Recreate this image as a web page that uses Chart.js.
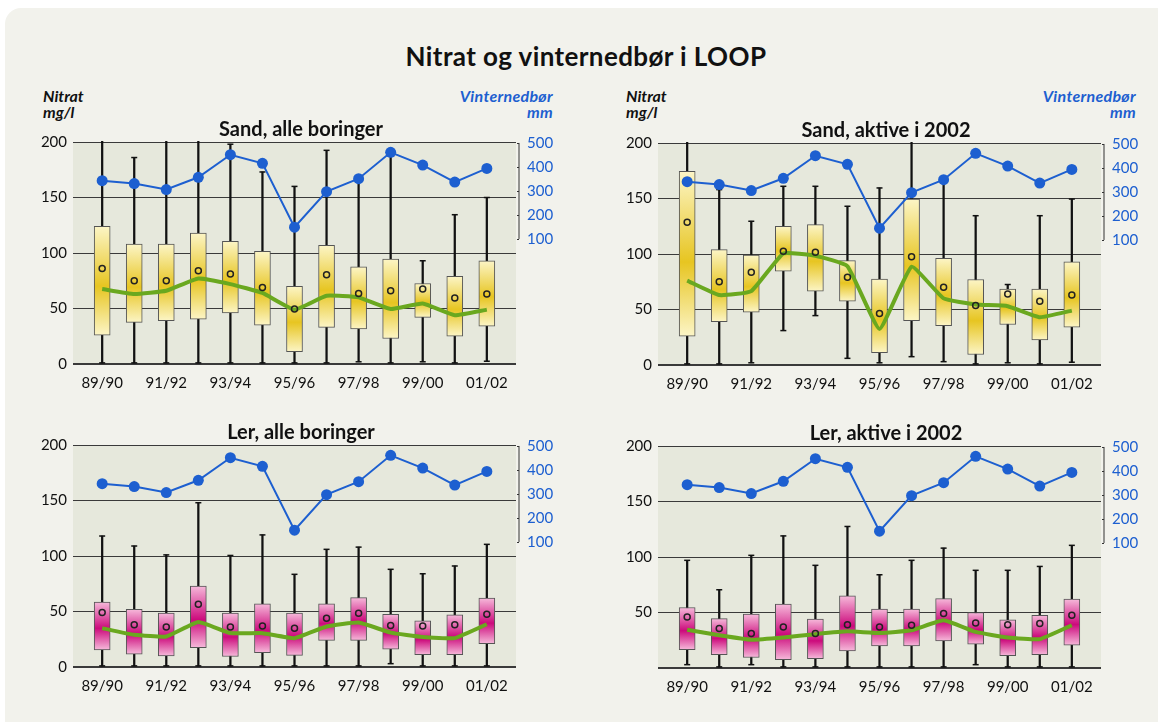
<!DOCTYPE html>
<html>
<head>
<meta charset="utf-8">
<script src="https://cdn.jsdelivr.net/npm/chart.js@4/dist/chart.umd.min.js"></script>
<style>
	body{margin:0;background:#fff;width:1158px;height:722px;overflow:hidden;font-family:Lato,"Open Sans",sans-serif;position:relative;}
	#bg{position:absolute;left:5px;top:8px;width:1180px;height:740px;background:#f2f2ec;border-radius:16px;}
	.maintitle{position:absolute;left:286px;width:600px;top:40px;text-align:center;font-weight:bold;font-size:26px;letter-spacing:0.4px;color:#111;}
	.head{position:absolute;top:88px;font-weight:bold;font-style:italic;font-size:16px;line-height:16px;}
	.nitrat{color:#111;}
	.regn{color:#1d5fd0;text-align:right;letter-spacing:0.3px;}
	canvas{position:absolute;}
</style>
</head>
<body>
<div id="bg"></div>
<div class="maintitle">Nitrat og vinternedbør i LOOP</div>
<div class="head nitrat" style="left:43px;">Nitrat<br>mg/l</div>
<div class="head regn" style="right:605px;">Vinternedbør<br>mm</div>
<div class="head nitrat" style="left:626px;">Nitrat<br>mg/l</div>
<div class="head regn" style="right:22px;">Vinternedbør<br>mm</div>

<canvas id="sandAlle" width="540" height="282" style="left:31px;top:116px;"></canvas>
<canvas id="sandAktiv" width="540" height="282" style="left:616px;top:117px;"></canvas>
<canvas id="lerAlle" width="540" height="282" style="left:31px;top:419px;"></canvas>
<canvas id="lerAktiv" width="540" height="282" style="left:616px;top:420px;"></canvas>

<script>
'use strict';

// vintersesonger
const seasons = ['89/90','90/91','91/92','92/93','93/94','94/95','95/96','96/97','97/98','98/99','99/00','00/01','01/02'];
// vinternedbør mm (samme i alle fire)
const precip = [343, 331, 306, 357, 451, 415, 149, 297, 351, 461, 408, 337, 394];
const nitratTicks = [0, 50, 100, 150, 200];
const precipTicks = [100, 200, 300, 400, 500];

// Sand, alle boringer  (215 = over 200, går ut av plottet)
const sandAlleMin    = [1, 1, 1, 1, 1, 1, 1, 1, 2, 1, 2, 1, 2.5];
const sandAlleQ1     = [26, 37.5, 39, 40.5, 46, 35, 11, 33, 31.5, 23, 42, 25, 34];
const sandAlleMedian = [67.5, 63, 66, 77, 72, 64, 49, 61.5, 60, 49.5, 54.5, 44, 49];
const sandAlleMean   = [86, 75, 75, 84, 81, 69, 49.5, 80.5, 63.5, 66, 67.5, 59.5, 63];
const sandAlleQ3     = [124, 108, 108, 118, 110.5, 101.5, 70, 107, 87.5, 94.5, 72.5, 79, 93];
const sandAlleMax    = [215, 186, 215, 215, 198, 173, 160, 192.5, 166, 191, 93, 134.5, 150];

// Sand, aktive i 2002
const sandAktivMin    = [1, 1, 2, 31, 44.5, 6, 2, 7.5, 3, 1, 2, 1, 2.5];
const sandAktivQ1     = [26, 39, 47.5, 84.5, 66.5, 57.5, 11, 40, 35.5, 9.5, 36.5, 22.5, 34];
const sandAktivMedian = [76, 63, 66.5, 100.5, 98.5, 89, 32.5, 88.5, 60, 54.5, 53, 43, 49];
const sandAktivMean   = [128.5, 75, 83.5, 102.5, 101.5, 79, 46.5, 97.5, 70, 53.5, 64, 57.5, 63];
const sandAktivQ3     = [174.5, 104, 99, 125, 126.5, 94, 77.5, 149.5, 96, 77, 68.5, 68.5, 93];
const sandAktivMax    = [215, 158, 129.5, 161, 161, 143, 159.5, 215, 166.5, 134.5, 72.5, 134.5, 149.5];

// Ler, alle boringer
const lerAlleMin    = [1, 1, 1, 1, 1, 1, 1, 1, 1, 3, 1, 1, 1];
const lerAlleQ1     = [15.5, 11.5, 10, 17.5, 9.5, 13, 10.5, 24, 24, 16, 11, 11, 21];
const lerAlleMedian = [35, 29, 27.5, 40.5, 30.5, 30.5, 26, 36.5, 40, 31, 27, 26, 38.5];
const lerAlleMean   = [49, 38, 36, 56.5, 36, 37, 35, 44, 48.5, 37.5, 37, 38, 47.5];
const lerAlleQ3     = [58.5, 52, 48.5, 73, 48.5, 57, 48.5, 57, 62.5, 47.5, 41.5, 47, 62];
const lerAlleMax    = [118, 109, 101, 148, 100.5, 119, 83.5, 106, 108, 88, 84, 91, 110.5];

// Ler, aktive i 2002
const lerAktivMin    = [3, 1, 3, 1, 1, 1, 1, 1, 1, 3, 1, 1, 1];
const lerAktivQ1     = [16.5, 12, 9.5, 7.5, 8.5, 15.5, 20, 20, 24.5, 21.5, 11, 12, 20.5];
const lerAktivMedian = [34.5, 29.5, 25.5, 27.5, 30.5, 33, 31.5, 34, 43, 32.5, 27.5, 26, 38.5];
const lerAktivMean   = [46, 35.5, 31, 37, 31, 39, 37, 38.5, 49, 40.5, 39, 40, 47.5];
const lerAktivQ3     = [54.5, 44.5, 48.5, 57.5, 44, 65, 53, 53, 62.5, 50, 43.5, 47.5, 62];
const lerAktivMax    = [97, 70.5, 101.5, 119, 92.5, 127.5, 84, 97, 108, 88, 88, 91.5, 110.5];

const yellow = {light: '#fcf5c6', mid: '#e7c521'};
const pink = {light: '#f6b9da', mid: '#cc0a7c'};
const blue = '#1d5fd0';
const green = '#6aa81f';
const font = 'Lato, "Open Sans", sans-serif';

// bakgrunn i plottet og den korte høyre aksen
const panelPlugin = {
	id: 'panel',
	beforeDraw(chart){
		let a = chart.chartArea;
		let c = chart.ctx;
		c.save();
		c.fillStyle = '#e6e8dc';
		c.fillRect(a.left, a.top, a.right - a.left, a.bottom - a.top);
		c.restore();
	},
	afterDraw(chart){
		let c = chart.ctx;
		let y2 = chart.scales.y2;
		let x = chart.chartArea.right + 3;
		c.save();
		c.strokeStyle = '#333';
		c.lineWidth = 1;
		c.beginPath();
		c.moveTo(x, y2.getPixelForValue(precipTicks[0]));
		c.lineTo(x, y2.getPixelForValue(precipTicks[precipTicks.length - 1]));
		for(let i = 0; i < precipTicks.length; i++){
			let py = Math.round(y2.getPixelForValue(precipTicks[i])) + 0.5;
			c.moveTo(x - 2, py);
			c.lineTo(x, py);
		}
		c.stroke();
		c.restore();
	}
};

function boxGradient(colors){
	return (ctx) => {
		let chart = ctx.chart;
		if(!chart.chartArea || ctx.type !== 'data') return colors.mid;
		let top = chart.scales.y.getPixelForValue(ctx.raw.y[1]);
		let bot = chart.scales.y.getPixelForValue(ctx.raw.y[0]);
		let g = chart.ctx.createLinearGradient(0, top, 0, bot);
		g.addColorStop(0, colors.light);
		g.addColorStop(0.55, colors.mid);
		g.addColorStop(1, colors.light);
		return g;
	};
}

function makePanel(id, title, min, q1, median, mean, q3, max, colors, showZero){
	let boxes = seasons.map((s, i) => ({x: i, y: [q1[i], q3[i]]}));
	let whiskers = seasons.map((s, i) => ({x: i, y: [min[i], max[i]]}));
	let caps = [];
	for(let i = 0; i < seasons.length; i++){
		caps.push({x: i, y: min[i]});
		if(max[i] <= 200) caps.push({x: i, y: max[i]});
	}

	new Chart(document.getElementById(id), {
		type: 'bar',
		data: {
			datasets: [{
				type: 'line',
				data: precip.map((v, i) => ({x: i, y: v})),
				yAxisID: 'y2',
				borderColor: blue,
				borderWidth: 2,
				pointRadius: 5.5,
				pointBackgroundColor: blue,
				pointBorderWidth: 0,
				order: 1
			}, {
				type: 'line',
				data: mean.map((v, i) => ({x: i, y: v})),
				showLine: false,
				pointStyle: 'circle',
				pointRadius: 3,
				pointBorderWidth: 1.5,
				pointBorderColor: '#222',
				pointBackgroundColor: 'rgba(0,0,0,0)',
				order: 2
			}, {
				type: 'line',
				data: median.map((v, i) => ({x: i, y: v})),
				borderColor: green,
				borderWidth: 4,
				pointRadius: 0,
				tension: 0.12,
				order: 3
			}, {
				data: boxes,
				grouped: false,
				barThickness: 16,
				backgroundColor: boxGradient(colors),
				borderColor: '#555',
				borderWidth: 1,
				borderSkipped: false,
				order: 4
			}, {
				type: 'line',
				data: caps,
				showLine: false,
				pointStyle: 'line',
				pointRadius: 3,
				pointBorderWidth: 1.5,
				pointBorderColor: '#111',
				order: 5
			}, {
				data: whiskers,
				grouped: false,
				barThickness: 1.6,
				backgroundColor: '#111',
				borderWidth: 0,
				clip: 1,
				order: 6
			}]
		},
		options: {
			responsive: false,
			animation: false,
			plugins: {
				legend: {display: false},
				tooltip: {enabled: false},
				title: {
					display: true,
					text: title,
					color: '#111',
					font: {family: font, size: 20, weight: 'bold'},
					padding: {top: 2, bottom: 0}
				}
			},
			layout: {padding: 0},
			scales: {
				x: {
					type: 'linear',
					offset: false,
					min: -0.91,
					max: 12.91,
					grid: {display: false, drawTicks: false},
					border: {display: false},
					afterBuildTicks: (s) => { s.ticks = seasons.map((v, i) => ({value: i})); },
					afterFit: (s) => { s.height = 34; },
					ticks: {
						autoSkip: false,
						maxRotation: 0,
						padding: 10,
						color: '#111',
						font: {family: font, size: 15},
						callback: (v) => (v % 2 === 0 ? seasons[v] : '')
					}
				},
				y: {
					position: 'left',
					min: 0,
					max: 200,
					border: {display: false},
					grid: {
						color: '#3a3a3a',
						lineWidth: (c) => (c.tick && c.tick.value === 0 ? 2 : 1),
						drawTicks: false
					},
					afterBuildTicks: (s) => { s.ticks = nitratTicks.map(v => ({value: v})); },
					afterFit: (s) => { s.width = 42; },
					ticks: {
						padding: 6,
						color: '#111',
						font: {family: font, size: 15},
						callback: (v) => (v === 0 && !showZero ? '' : v)
					}
				},
				y2: {
					position: 'right',
					min: -421,
					max: 504,
					border: {display: false},
					grid: {drawOnChartArea: false, drawTicks: false},
					afterBuildTicks: (s) => { s.ticks = precipTicks.map(v => ({value: v})); },
					afterFit: (s) => { s.width = 55; },
					ticks: {
						padding: 11,
						color: blue,
						font: {family: font, size: 15}
					}
				}
			}
		},
		plugins: [panelPlugin]
	});
}

makePanel('sandAlle', 'Sand, alle boringer', sandAlleMin, sandAlleQ1, sandAlleMedian, sandAlleMean, sandAlleQ3, sandAlleMax, yellow, true);
makePanel('sandAktiv', 'Sand, aktive i 2002', sandAktivMin, sandAktivQ1, sandAktivMedian, sandAktivMean, sandAktivQ3, sandAktivMax, yellow, true);
makePanel('lerAlle', 'Ler, alle boringer', lerAlleMin, lerAlleQ1, lerAlleMedian, lerAlleMean, lerAlleQ3, lerAlleMax, pink, true);
makePanel('lerAktiv', 'Ler, aktive i 2002', lerAktivMin, lerAktivQ1, lerAktivMedian, lerAktivMean, lerAktivQ3, lerAktivMax, pink, false);
</script>
</body>
</html>
